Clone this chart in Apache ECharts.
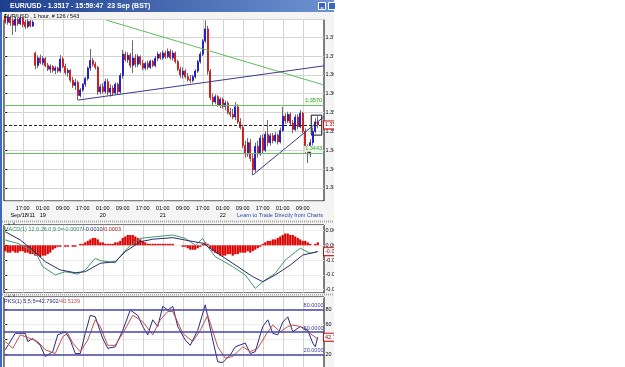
<!DOCTYPE html>
<html><head><meta charset="utf-8">
<script src="https://cdn.jsdelivr.net/npm/echarts@6/dist/echarts.min.js"></script>
<style>html,body{margin:0;padding:0;background:#fff}#c{width:625px;height:367px}</style>
</head><body><div id="c"></div>
<script>
const FONT = 'Liberation Sans';
// hourly candles [open, close, low, high]
const candles = [
[1.3805,1.3790,1.3786,1.3812],[1.3790,1.3802,1.3783,1.3808],[1.3802,1.3788,1.3780,1.3806],[1.3795,1.3782,1.3756,1.3800],
[1.3782,1.3798,1.3764,1.3805],[1.3798,1.3786,1.3780,1.3802],[1.3786,1.3800,1.3782,1.3806],[1.3800,1.3784,1.3776,1.3804],
[1.3790,1.3778,1.3772,1.3796],[1.3778,1.3792,1.3774,1.3798],[1.3792,1.3780,1.3776,1.3796],[1.3780,1.3790,1.3777,1.3795],
[1.3708,1.3675,1.3665,1.3712],[1.3675,1.3695,1.3668,1.3702],[1.3695,1.3682,1.3678,1.3704],[1.3682,1.3693,1.3676,1.3700],
[1.3693,1.3674,1.3670,1.3697],[1.3676,1.3665,1.3660,1.3682],[1.3665,1.3672,1.3655,1.3678],[1.3672,1.3662,1.3656,1.3676],
[1.3662,1.3668,1.3652,1.3674],[1.3668,1.3660,1.3655,1.3672],[1.3660,1.3692,1.3655,1.3703],[1.3692,1.3672,1.3668,1.3698],
[1.3672,1.3656,1.3650,1.3680],[1.3656,1.3662,1.3645,1.3668],[1.3662,1.3636,1.3630,1.3665],[1.3636,1.3622,1.3615,1.3645],
[1.3622,1.3630,1.3610,1.3640],[1.3630,1.3595,1.3583,1.3635],[1.3595,1.3610,1.3590,1.3615],[1.3610,1.3625,1.3605,1.3628],
[1.3625,1.3640,1.3618,1.3645],[1.3640,1.3668,1.3635,1.3672],[1.3668,1.3688,1.3660,1.3719],[1.3688,1.3678,1.3672,1.3695],
[1.3678,1.3670,1.3664,1.3685],[1.3670,1.3605,1.3597,1.3674],[1.3605,1.3618,1.3598,1.3625],[1.3618,1.3606,1.3600,1.3628],
[1.3606,1.3632,1.3600,1.3640],[1.3632,1.3604,1.3596,1.3640],[1.3604,1.3615,1.3592,1.3625],[1.3615,1.3602,1.3594,1.3622],
[1.3602,1.3625,1.3598,1.3630],[1.3625,1.3605,1.3598,1.3630],[1.3605,1.3648,1.3600,1.3655],[1.3648,1.3705,1.3640,1.3716],
[1.3705,1.3690,1.3685,1.3712],[1.3690,1.3702,1.3682,1.3710],[1.3702,1.3675,1.3668,1.3708],[1.3675,1.3695,1.3655,1.3742],
[1.3695,1.3678,1.3670,1.3705],[1.3678,1.3698,1.3670,1.3705],[1.3698,1.3680,1.3675,1.3702],[1.3680,1.3668,1.3662,1.3690],
[1.3668,1.3680,1.3662,1.3685],[1.3680,1.3670,1.3664,1.3688],[1.3670,1.3686,1.3666,1.3690],[1.3686,1.3675,1.3670,1.3690],
[1.3675,1.3694,1.3670,1.3700],[1.3694,1.3705,1.3686,1.3712],[1.3705,1.3695,1.3690,1.3710],[1.3695,1.3708,1.3690,1.3715],
[1.3708,1.3698,1.3692,1.3714],[1.3698,1.3712,1.3694,1.3720],[1.3712,1.3695,1.3690,1.3718],[1.3695,1.3708,1.3688,1.3715],
[1.3708,1.3685,1.3680,1.3712],[1.3685,1.3665,1.3660,1.3690],[1.3665,1.3650,1.3642,1.3672],[1.3650,1.3660,1.3640,1.3670],
[1.3660,1.3645,1.3640,1.3665],[1.3645,1.3638,1.3632,1.3655],[1.3638,1.3635,1.3628,1.3650],[1.3635,1.3645,1.3630,1.3650],
[1.3645,1.3660,1.3640,1.3665],[1.3660,1.3685,1.3655,1.3690],[1.3685,1.3705,1.3680,1.3712],[1.3705,1.3740,1.3700,1.3745],
[1.3740,1.3772,1.3735,1.3795],[1.3772,1.3660,1.3650,1.3780],[1.3660,1.3590,1.3583,1.3665],[1.3590,1.3578,1.3570,1.3600],
[1.3578,1.3592,1.3572,1.3598],[1.3592,1.3570,1.3565,1.3596],[1.3570,1.3585,1.3562,1.3590],[1.3585,1.3566,1.3560,1.3590],
[1.3566,1.3575,1.3556,1.3582],[1.3575,1.3550,1.3545,1.3580],[1.3550,1.3545,1.3538,1.3562],[1.3545,1.3538,1.3532,1.3560],
[1.3538,1.3565,1.3530,1.3578],[1.3565,1.3525,1.3520,1.3572],[1.3525,1.3510,1.3505,1.3535],[1.3510,1.3462,1.3455,1.3518],
[1.3462,1.3440,1.3430,1.3475],[1.3440,1.3470,1.3432,1.3482],[1.3470,1.3428,1.3420,1.3480],[1.3428,1.3398,1.3384,1.3440],
[1.3398,1.3460,1.3392,1.3470],[1.3460,1.3440,1.3430,1.3475],[1.3440,1.3482,1.3435,1.3490],[1.3482,1.3450,1.3440,1.3492],
[1.3450,1.3492,1.3445,1.3500],[1.3492,1.3470,1.3460,1.3530],[1.3470,1.3488,1.3462,1.3495],[1.3488,1.3475,1.3468,1.3496],
[1.3475,1.3490,1.3470,1.3498],[1.3490,1.3472,1.3465,1.3494],[1.3472,1.3502,1.3468,1.3510],[1.3502,1.3540,1.3498,1.3565],
[1.3540,1.3528,1.3520,1.3548],[1.3528,1.3545,1.3522,1.3552],[1.3545,1.3522,1.3515,1.3550],[1.3522,1.3505,1.3495,1.3530],
[1.3505,1.3538,1.3500,1.3545],[1.3538,1.3512,1.3505,1.3545],[1.3512,1.3548,1.3508,1.3557],[1.3548,1.3500,1.3495,1.3552],
[1.3500,1.3450,1.3440,1.3508],[1.3450,1.3440,1.3416,1.3465],[1.3440,1.3470,1.3432,1.3480],[1.3470,1.3500,1.3462,1.3510],
[1.3500,1.3525,1.3495,1.3535],[1.3525,1.3517,1.3508,1.3540]
];
const barSlots = 128;           // 126 bars + empty room on the right
const firstTickBar = 7, tickStep = 8;
const tickTimes = ['17:00','01:00','09:00','17:00','01:00','09:00','17:00','01:00','09:00','17:00','01:00','09:00','17:00','01:00','09:00'];
const tickDates = ['Sep/18/11','19','','','20','','','21','','','22','','','',''];

// drawing objects on the price chart: [barIndex, price]
const greenTrend = [[40.6, 1.3795], [127.5, 1.3623]];
const navyTrend = [[29.1, 1.3583], [127.5, 1.3674]];
const navyTrend2 = [[99.0, 1.3384], [127.5, 1.3539]];
const boxCorners = [[122.4, 1.3543], [126.6, 1.3490]];
const levelUpper = 1.3570, levelLower = 1.3443, lastPrice = 1.3517;

// MACD panel
const macdHist = [
-0.0004,-0.0005,-0.0005,-0.0004,-0.0005,-0.0005,-0.0004,-0.0004,-0.0005,-0.0005,-0.0006,-0.0006,
-0.0007,-0.0007,-0.0008,-0.0007,-0.0007,-0.0006,-0.0005,
-0.0003,-0.0002,-0.0001,-0.0001,0.0000,-0.0001,-0.0001,0.0000,-0.0001,-0.0001,
0.0000,0.0001,0.0001,0.0002,
0.0003,0.0004,0.0005,0.0005,0.0004,0.0002,
0.0002,0.0001,0.0001,0.0001,0.0001,0.0002,0.0002,
0.0003,0.0005,0.0006,0.0007,0.0007,0.0007,0.0006,0.0005,0.0004,0.0003,
0.0002,0.0001,0.0001,0.0001,0.0001,0.0001,0.0001,0.0001,0.0001,0.0001,0.0001,0.0001,0.0000,0.0000,0.0000,-0.0001,-0.0001,-0.0002,
-0.0003,-0.0003,-0.0003,-0.0002,-0.0001,
0.0001,0.0002,0.0001,
-0.0002,-0.0004,-0.0005,-0.0006,-0.0007,-0.0007,-0.0007,-0.0006,-0.0006,-0.0007,-0.0006,-0.0006,
-0.0005,-0.0005,-0.0005,-0.0004,-0.0005,-0.0004,-0.0003,-0.0002,-0.0001,
0.0001,0.0002,0.0003,0.0003,0.0004,0.0004,
0.0005,0.0006,0.0007,0.0008,0.0008,0.0007,0.0007,0.0006,0.0005,
0.0004,0.0003,0.0003,0.0002,
0.0001,0.0000,0.0001,
0.0002
];
const macdLine = [[0,0.00036],[5,0.00013],[10,-0.00032],[13,-0.00077],[15,-0.00145],[20,-0.00201],[24,-0.00179],[29,-0.00195],[32,-0.00167],[36,-0.00088],[38,-0.00104],[44,-0.00118],[47,-0.00054],[50,0.0],[54,0.00047],[60,0.00058],[67,0.0007],[72,0.00047],[76,0.0],[79,0.00047],[80,0.00013],[84,-0.00077],[91,-0.00145],[96,-0.00201],[100,-0.00292],[103,-0.00247],[108,-0.0019],[112,-0.001],[118,-0.0002],[122,-0.00054],[125,-0.00043]];
const macdSignal = [[0,0.00092],[6,0.00036],[11,-0.00032],[16,-0.00111],[22,-0.00167],[28,-0.00186],[32,-0.00179],[38,-0.00122],[44,-0.00111],[48,-0.00043],[54,0.00024],[59,0.00041],[67,0.00052],[74,0.00029],[79,0.00014],[83,-0.00032],[91,-0.00122],[99,-0.00213],[103,-0.00247],[108,-0.00201],[114,-0.00134],[119,-0.00066],[125,-0.00043]];
const macdNow = -0.0007, signalNow = -0.0010, histNow = 0.0003;

// PKS (stochastic) panel
const pksK = [[0,26],[4,48],[8,48],[9,37],[11,41],[14,32],[16,17],[19,23.5],[21,46],[24,50],[26,39],[28,21],[30,21],[32,48],[34,72],[36,70],[39,41],[41,28],[44,30],[47,52],[50,79],[53,72],[55,57],[57,46],[59,66],[61,57],[63,84],[65,79],[67,84],[69,57],[72,39],[74,32],[77,52],[80,86],[81,70],[83,39],[85,10],[87,9],[90,19],[92,30],[96,35],[98,21],[100,23.5],[103,57],[105,66],[107,48],[109,46],[111,63],[113,70],[115,50],[118,57],[121,52],[123,35],[124,30],[125,43]];
const pksD = [[0,37],[3,28],[6,46],[10,41],[13,37],[16,26],[20,21],[23,43.5],[25,48],[27,35],[30,23.5],[33,39],[36,66],[38,57],[41,32],[44,32],[47,48],[51,72],[55,63.5],[59,46],[62,66],[65,77],[67,77],[71,48],[75,37],[78,52],[81,72],[85,30],[88,15],[91,17],[95,30],[98,23.5],[101,28],[105,50],[107,59],[110,50],[113,57],[115,59],[118,57],[121,50],[125,40.5]];
const pksKNow = 42.7902, pksDNow = 40.5139;
const pksLevels = [80, 50, 20];

// ---------- build ----------
const slots = Array.from({length: barSlots}, (_, k) => String(k));
const isTick = k => k >= firstTickBar && (k - firstTickBar) % tickStep === 0 && (k - firstTickBar) / tickStep < tickTimes.length;
const bodies = candles.map(c => [c[0], c[1], Math.min(c[0], c[1]), Math.max(c[0], c[1])]);
const GRID_GRAY = '#d4d4d4';
const txt = (size, color, extra) => Object.assign({fontFamily: FONT, fontSize: size, color: color}, extra || {});

function catAxis(gridIndex, showLabels) {
  return {
    type: 'category', gridIndex, data: slots, boundaryGap: true,
    axisLine: {show: false}, axisTick: {show: false},
    axisLabel: showLabels ? Object.assign(txt(5.5, '#000'), {
      interval: (i) => isTick(i), margin: 3.5, lineHeight: 7.4,
      formatter: (v, i) => { const k = (i - firstTickBar) / tickStep; return tickDates[k] ? tickTimes[k] + '\n' + tickDates[k] : tickTimes[k]; }
    }) : {show: false},
    splitLine: {show: true, interval: (i) => isTick(i), alignWithLabel: true, lineStyle: {color: GRID_GRAY, width: 1}}
  };
}
function valAxis(gridIndex) {
  return {type: 'value', gridIndex, min: -0.5, max: barSlots - 0.5, show: false};
}
function yAx(gridIndex, min, max, step, fmt, gridColor) {
  return {
    type: 'value', gridIndex, position: 'right', min, max, minInterval: step, maxInterval: step, splitNumber: 10,
    axisLine: {show: false},
    axisTick: {show: true, length: 2, lineStyle: {color: '#000'}},
    axisLabel: Object.assign(txt(5.5, '#000'), {formatter: fmt, margin: 1.5, showMinLabel: false, showMaxLabel: false}),
    splitLine: {show: true, lineStyle: {color: gridColor, width: 1}}
  };
}
const tagLabel = (text) => ({
  show: true, position: 'end', distance: 0, formatter: text,
  fontFamily: FONT, fontSize: 5.5, color: '#a00000', backgroundColor: '#fff',
  borderColor: '#d00000', borderWidth: 1, padding: [1, 1, 0, 1]
});

const option = {
  animation: false,
  backgroundColor: '#ffffff',
  grid: [
    {left: 4, top: 19.5, width: 320, height: 181.5, show: true, backgroundColor: '#fff', borderColor: '#000', borderWidth: 1, containLabel: false, outerBoundsMode: 'none'},
    {left: 4, top: 225, width: 320, height: 68, show: true, backgroundColor: '#fff', borderColor: '#000', borderWidth: 1, containLabel: false, outerBoundsMode: 'none'},
    {left: 4, top: 297, width: 320, height: 72.3, show: true, backgroundColor: '#fff', borderColor: '#000', borderWidth: 1, containLabel: false, outerBoundsMode: 'none'}
  ],
  xAxis: [catAxis(0, true), valAxis(0), catAxis(1, false), valAxis(1), catAxis(2, false), valAxis(2)],
  yAxis: [
    yAx(0, 1.3315, 1.3797, 0.005, v => v.toFixed(4), GRID_GRAY),
    yAx(1, -0.003234, 0.001376, 0.001, v => v.toFixed(4), '#ececec'),
    yAx(2, 0, 96.4, 20, v => String(Math.round(v)), '#ececec')
  ],
  series: [
    {type: 'candlestick', name: 'wick', xAxisIndex: 0, yAxisIndex: 0, data: candles, barWidth: 0.6, clip: true,
     itemStyle: {color: '#6e6e6e', color0: '#6e6e6e', borderColor: '#6e6e6e', borderColor0: '#6e6e6e', borderWidth: 1}},
    {type: 'candlestick', name: 'body', xAxisIndex: 0, yAxisIndex: 0, data: bodies, barWidth: 1.6, clip: true,
     itemStyle: {color: '#2222c8', color0: '#d02020', borderColor: '#2222c8', borderColor0: '#d02020', borderWidth: 1}},
    {type: 'line', name: 'greenTrend', xAxisIndex: 1, yAxisIndex: 0, data: greenTrend, symbol: 'none', silent: true,
     lineStyle: {color: '#5cbf5c', width: 1}},
    {type: 'line', name: 'navyTrend', xAxisIndex: 1, yAxisIndex: 0, data: navyTrend, symbol: 'none', silent: true,
     lineStyle: {color: '#3a3a8a', width: 1}},
    {type: 'line', name: 'navyTrend2', xAxisIndex: 1, yAxisIndex: 0, data: navyTrend2, symbol: 'none', silent: true,
     lineStyle: {color: '#3a3a8a', width: 1},
     markLine: {symbol: 'none', silent: true, animation: false, precision: 4,
       data: [
         {yAxis: levelUpper, lineStyle: {color: '#66c266', width: 1, type: 'solid'},
          label: {show: true, position: 'insideEndTop', distance: 1, formatter: levelUpper.toFixed(4), fontFamily: FONT, fontSize: 5.5, color: '#3f9f3f', backgroundColor: '#eef8e6', padding: [0, 1]}},
         {yAxis: levelLower, lineStyle: {color: '#66c266', width: 1, type: 'solid'},
          label: {show: true, position: 'insideEndTop', distance: 1, formatter: levelLower.toFixed(4), fontFamily: FONT, fontSize: 5.5, color: '#3f9f3f', backgroundColor: '#eef8e6', padding: [0, 1]}},
         {yAxis: lastPrice, lineStyle: {color: '#222', width: 1, type: [3, 2]}, label: tagLabel(lastPrice.toFixed(4))}
       ]},
     markArea: {silent: true, itemStyle: {color: 'rgba(0,0,0,0)', borderColor: '#111', borderWidth: 1},
       data: [[{coord: boxCorners[0]}, {coord: boxCorners[1]}]]}
    },
    {type: 'bar', name: 'hist', xAxisIndex: 2, yAxisIndex: 1, data: macdHist, barCategoryGap: '12%',
     itemStyle: {color: '#e00000'}, silent: true},
    {type: 'line', name: 'macd', xAxisIndex: 3, yAxisIndex: 1, data: macdLine, symbol: 'none', silent: true,
     lineStyle: {color: '#3f9a6a', width: 1}},
    {type: 'line', name: 'signal', xAxisIndex: 3, yAxisIndex: 1, data: macdSignal, symbol: 'none', silent: true,
     lineStyle: {color: '#2a2a70', width: 1},
     markLine: {symbol: 'none', silent: true, precision: 6, data: [{yAxis: macdLine[macdLine.length - 1][1], lineStyle: {color: 'rgba(0,0,0,0)'}, label: tagLabel(macdNow.toFixed(4))}]}},
    {type: 'line', name: 'pksK', xAxisIndex: 5, yAxisIndex: 2, data: pksK, symbol: 'none', silent: true,
     lineStyle: {color: '#2a2a80', width: 1},
     markLine: {symbol: 'none', silent: true, precision: 4,
       data: pksLevels.map(v => ({yAxis: v, lineStyle: {color: '#4646a6', width: 1.5, type: 'solid'},
         label: {show: true, position: 'insideEndTop', distance: 0.5, formatter: v.toFixed(4), fontFamily: FONT, fontSize: 5.5, color: '#3a3a9a'}}))
         .concat([{yAxis: pksKNow, lineStyle: {color: 'rgba(0,0,0,0)'}, label: tagLabel(pksKNow.toFixed(4))}])}},
    {type: 'line', name: 'pksD', xAxisIndex: 5, yAxisIndex: 2, data: pksD, symbol: 'none', silent: true,
     lineStyle: {color: '#c0504d', width: 1}}
  ],
  graphic: [
    {type: 'rect', z: -100, shape: {x: 0, y: 0, width: 334, height: 367}, style: {fill: '#f4f4f4'}},
    {type: 'rect', z: -99, shape: {x: 0, y: 10, width: 2, height: 357}, style: {fill: '#3d68c4'}},
    {type: 'line', z: -98, shape: {x1: 2, y1: 221.5, x2: 334, y2: 221.5}, style: {stroke: '#a8a8a8', lineWidth: 2, lineDash: [1, 1]}},
    {type: 'line', z: -98, shape: {x1: 2, y1: 294.5, x2: 334, y2: 294.5}, style: {stroke: '#a8a8a8', lineWidth: 2, lineDash: [1, 1]}},
    {type: 'text', z: -97, style: {x: 7, y: 223.5, text: '▲ ▼', fontFamily: FONT, fontSize: 4, fill: '#777', verticalAlign: 'middle'}},
    {type: 'text', z: -97, style: {x: 7, y: 295.5, text: '▲ ▼', fontFamily: FONT, fontSize: 4, fill: '#777', verticalAlign: 'middle'}},
    // right-hand window edge
    {type: 'rect', z: 100, shape: {x: 334, y: 0, width: 291, height: 367}, style: {fill: '#ffffff'}},
    // title bar
    {type: 'rect', z: 101, shape: {x: 0, y: 0, width: 334, height: 12},
     style: {fill: new echarts.graphic.LinearGradient(0, 0, 1, 0, [{offset: 0, color: '#1d3f8e'}, {offset: 1, color: '#6e92d2'}])}},
    {type: 'text', z: 102, style: {x: 10, y: 6.5, text: 'EUR/USD - 1.3517 - 15:59:47  23 Sep (BST)', fontFamily: FONT, fontSize: 7, fontWeight: 'bold', fill: '#ffffff', verticalAlign: 'middle'}},
    {type: 'rect', z: 102, shape: {x: 318.5, y: 2.5, width: 7, height: 7}, style: {fill: '#3a66c8', stroke: '#ffffff', lineWidth: 1}},
    {type: 'line', z: 103, shape: {x1: 320.5, y1: 8, x2: 323.5, y2: 8}, style: {stroke: '#ffffff', lineWidth: 1}},
    {type: 'rect', z: 102, shape: {x: 328.5, y: 2.5, width: 7, height: 7}, style: {fill: '#3a66c8', stroke: '#ffffff', lineWidth: 1}},
    // header / panel captions
    {type: 'text', z: 10, style: {x: 4, y: 16, text: 'EUR/USD , 1 hour, # 126 / 543', fontFamily: FONT, fontSize: 5.5, fill: '#000', verticalAlign: 'middle'}},
    {type: 'text', z: 10, style: {x: 4, y: 229.5, verticalAlign: 'middle', fontFamily: FONT, fontSize: 5.5,
      text: '{g|MACD(1) 12.0;26.0;9.0=' + macdNow.toFixed(4) + '}{n|/' + signalNow.toFixed(4) + '}{r|/' + histNow.toFixed(4) + '}',
      rich: {g: {fill: '#2f8a5a', fontFamily: FONT, fontSize: 5.5}, n: {fill: '#2a2a70', fontFamily: FONT, fontSize: 5.5}, r: {fill: '#c02020', fontFamily: FONT, fontSize: 5.5}}}},
    {type: 'text', z: 10, style: {x: 4, y: 301.5, verticalAlign: 'middle', fontFamily: FONT, fontSize: 5.5,
      text: '{n|PKS(1) 5;5;5=' + pksKNow.toFixed(4) + '}{r|/' + pksDNow.toFixed(4) + '}',
      rich: {n: {fill: '#2a2a80', fontFamily: FONT, fontSize: 5.5}, r: {fill: '#c0504d', fontFamily: FONT, fontSize: 5.5}}}},
    {type: 'text', z: 10, style: {x: 323, y: 215.5, text: 'Learn to Trade Directly from Charts', fontFamily: FONT, fontSize: 5.5, fill: '#2b4aa8', align: 'right', verticalAlign: 'middle'}}
  ]
};
const chart = echarts.init(document.getElementById('c'));
chart.setOption(option);
</script>
</body></html>
